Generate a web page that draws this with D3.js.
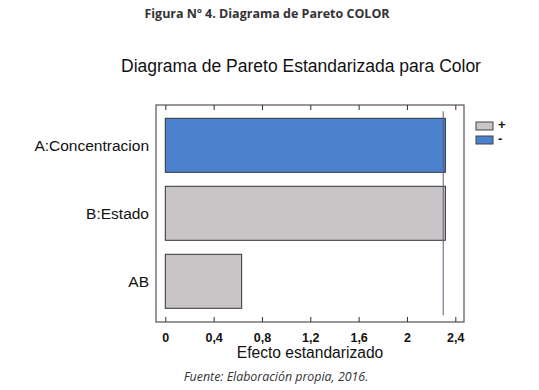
<!DOCTYPE html>
<html><head><meta charset="utf-8">
<script src="https://cdn.jsdelivr.net/npm/d3@7"></script>
<style>body{margin:0;background:#fff}svg{display:block}</style>
</head><body>
<script>
const categories = ["A:Concentracion", "B:Estado", "AB"];
const effects = [2.318, 2.318, 0.632];
const signs = ["-", "+", "+"];
const criticalValue = 2.30;
const xTicks = [0, 0.4, 0.8, 1.2, 1.6, 2, 2.4];
const legendItems = ["+", "-"];

const W = 539, H = 390;
const svg = d3.select("body").append("svg").attr("width", W).attr("height", H);
const frame = {l:156, t:105, r:464, b:322};
const x = d3.scaleLinear().domain([0, 2.4]).range([165.3, 455.3]);
const y = d3.scaleBand().domain(categories).range([111.3, 315.3]).paddingInner(0.206).paddingOuter(0.103);
const color = d3.scaleOrdinal().domain(["+", "-"]).range(["#c9c5c6", "#4a82d0"]);
const fmt = d => String(d).replace(".", ",");

svg.append("text").attr("x", 267).attr("y", 18).attr("text-anchor", "middle")
  .attr("font-family", "Open Sans, Noto Sans, sans-serif").attr("font-weight", "bold")
  .attr("font-size", 12.5).attr("fill", "#333").text("Figura Nº 4. Diagrama de Pareto COLOR");

svg.append("text").attr("x", 301).attr("y", 72).attr("text-anchor", "middle")
  .attr("font-family", "Liberation Sans, Arial, sans-serif")
  .attr("font-size", 17.5).attr("fill", "#111").text("Diagrama de Pareto Estandarizada para Color");

// frame
svg.append("rect").attr("x", frame.l).attr("y", frame.t)
  .attr("width", frame.r - frame.l).attr("height", frame.b - frame.t)
  .attr("fill", "none").attr("stroke", "#5a5058").attr("stroke-width", 1.2);

// bars
svg.selectAll("rect.bar").data(categories).join("rect").attr("class", "bar")
  .attr("x", x(0)).attr("y", d => y(d))
  .attr("width", (d, i) => x(effects[i]) - x(0)).attr("height", y.bandwidth())
  .attr("fill", (d, i) => color(signs[i]))
  .attr("stroke", "#333").attr("stroke-width", 1);

// critical line
svg.append("line").attr("x1", x(criticalValue)).attr("x2", x(criticalValue))
  .attr("y1", y.range()[0]).attr("y2", y.range()[1])
  .attr("stroke", "#5a5a80").attr("stroke-width", 1);

// bottom axis ticks (inside) + labels
const bottomAxis = svg.append("g").attr("transform", `translate(0,${frame.b})`)
  .call(d3.axisBottom(x).tickValues(xTicks).tickSize(-5).tickFormat(fmt).tickPadding(11));
bottomAxis.select(".domain").remove();
bottomAxis.selectAll("line").attr("stroke", "#333");
bottomAxis.selectAll("text").attr("font-family", "Liberation Sans, Arial, sans-serif")
  .attr("font-weight", "bold").attr("font-size", 12.5).attr("fill", "#111");

// top ticks
const topAxis = svg.append("g").attr("transform", `translate(0,${frame.t})`)
  .call(d3.axisTop(x).tickValues(xTicks).tickSize(-5).tickFormat(""));
topAxis.select(".domain").remove();
topAxis.selectAll("line").attr("stroke", "#333");

// category labels
svg.selectAll("text.cat").data(categories).join("text").attr("class", "cat")
  .attr("x", 149).attr("y", d => y(d) + y.bandwidth() / 2 + 5.5)
  .attr("text-anchor", "end").attr("font-family", "Liberation Sans, Arial, sans-serif")
  .attr("font-size", 15.5).attr("fill", "#111").text(d => d);

svg.append("text").attr("x", 310).attr("y", 358).attr("text-anchor", "middle")
  .attr("font-family", "Liberation Sans, Arial, sans-serif")
  .attr("font-size", 15.6).attr("fill", "#111").text("Efecto estandarizado");

// legend
const lg = svg.selectAll("g.lg").data(legendItems).join("g").attr("class", "lg")
  .attr("transform", (d, i) => `translate(476,${122 + i * 14})`);
lg.append("rect").attr("width", 17).attr("height", 8)
  .attr("fill", d => color(d)).attr("stroke", "#444").attr("stroke-width", 1);
lg.append("text").attr("x", 22).attr("y", 7).attr("font-family", "Liberation Sans, Arial, sans-serif")
  .attr("font-weight", "bold").attr("font-size", 13).attr("fill", "#111").text(d => d);

svg.append("text").attr("x", 276).attr("y", 381).attr("text-anchor", "middle")
  .attr("font-family", "Open Sans, Noto Sans, sans-serif").attr("font-style", "italic")
  .attr("font-size", 12.4).attr("fill", "#333").text("Fuente: Elaboración propia, 2016.");
</script>
</body></html>
